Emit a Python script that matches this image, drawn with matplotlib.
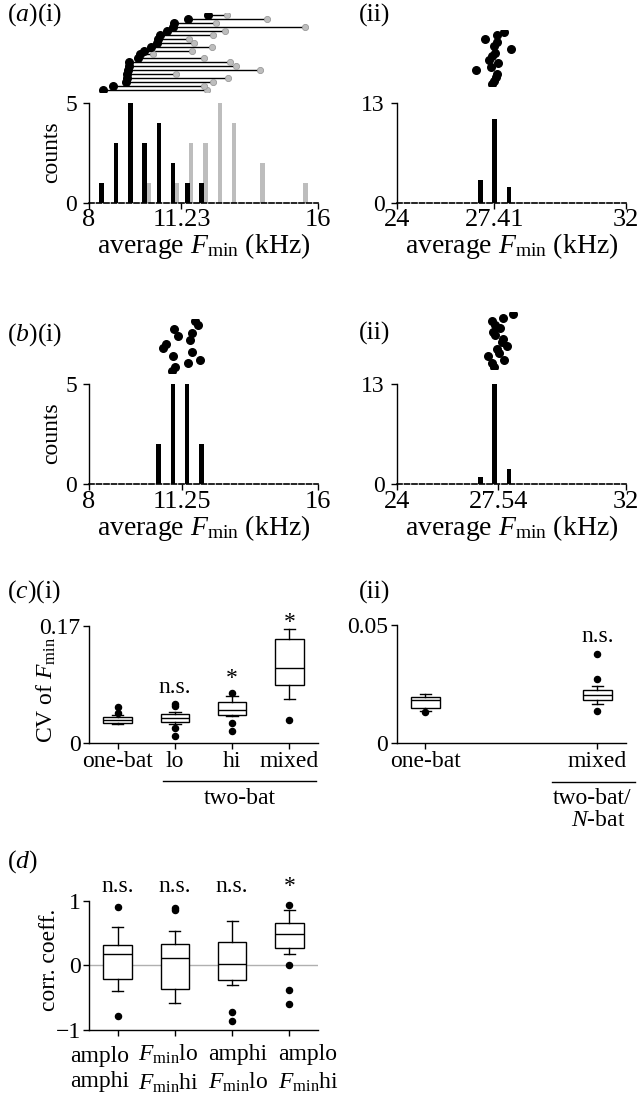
import matplotlib
matplotlib.use('Agg')
import matplotlib.pyplot as plt
import numpy as np

plt.rcParams['font.family'] = ['Liberation Serif', 'DejaVu Serif']
plt.rcParams['mathtext.fontset'] = 'custom'
plt.rcParams['mathtext.rm'] = 'Liberation Serif'
plt.rcParams['mathtext.it'] = 'Liberation Serif:italic'
plt.rcParams['font.size'] = 17
plt.rcParams['axes.linewidth'] = 1.0
plt.rcParams['xtick.major.size'] = 4
plt.rcParams['ytick.major.size'] = 4
plt.rcParams['xtick.major.pad'] = 2
plt.rcParams['ytick.major.pad'] = 2

# ---------------- data ----------------
# (a)(i) histograms of average Fmin (kHz)
a1_lo_bins = [8.5, 9.0, 9.5, 10.0, 10.5, 11.0, 11.5, 12.0]
a1_lo_counts = [1, 3, 5, 3, 4, 2, 1, 1]
a1_hi_bins = [10.0, 11.0, 11.5, 12.0, 12.5, 13.0, 14.0, 15.5]
a1_hi_counts = [1, 1, 3, 3, 5, 4, 2, 1]
# pairs (bottom to top)
a1_pair_lo = [8.48, 8.83, 9.29, 9.32, 9.34, 9.37, 9.41, 9.41, 9.72, 9.78,
              9.92, 10.16, 10.37, 10.42, 10.48, 10.74, 10.92, 10.97, 11.47, 12.17]
a1_pair_hi = [12.13, 12.02, 12.34, 12.87, 11.04, 13.97, 13.12, 12.93, 12.03, 10.25,
              11.61, 12.31, 11.68, 11.49, 12.34, 12.75, 15.55, 12.44, 14.21, 12.81]
a1_mean_label = '11.23'

# (a)(ii)
a2_bins = [26.92, 27.42, 27.92]
a2_counts = [3, 11, 2]
a2_dots = [27.34, 27.41, 27.47, 27.49, 26.78, 27.29, 27.55, 27.23, 27.31, 27.43,
           27.98, 27.41, 27.49, 27.09, 27.51, 27.75]
a2_mean_label = '27.41'

# (b)(i)
b1_bins = [10.43, 10.93, 11.43, 11.94]
b1_counts = [2, 5, 5, 2]
b1_dots = [10.91, 11.00, 11.45, 11.88, 10.95, 11.59, 10.57, 10.69, 11.53, 11.10,
           11.59, 10.98, 11.82, 11.70]
b1_mean_label = '11.25'

# (b)(ii)
b2_bins = [26.92, 27.42, 27.92]
b2_counts = [1, 13, 2]
b2_dots = [27.40, 27.31, 27.74, 27.20, 27.58, 27.49, 27.84, 27.66, 27.72, 27.43,
           27.37, 27.60, 27.43, 27.31, 27.70, 28.07]
b2_mean_label = '27.54'

# (c)(i) CV of Fmin box stats
c1_labels = ['one-bat', 'lo', 'hi', 'mixed']
c1_med = [0.033, 0.0354, 0.047, 0.108]
c1_q1 = [0.0286, 0.0295, 0.0397, 0.0838]
c1_q3 = [0.0368, 0.0417, 0.0586, 0.1506]
c1_wlo = [0.027, 0.0266, 0.0385, 0.0639]
c1_whi = [0.0407, 0.045, 0.0678, 0.165]
c1_fliers = [[0.052, 0.0425], [0.056, 0.053, 0.021, 0.0097], [0.0726, 0.028, 0.0174], [0.0324]]
c1_sig = ['', 'n.s.', '*', '*']

# (c)(ii)
c2_labels = ['one-bat', 'mixed']
c2_med = [0.018, 0.0203]
c2_q1 = [0.0146, 0.018]
c2_q3 = [0.0196, 0.0225]
c2_wlo = [0.0135, 0.0164]
c2_whi = [0.0205, 0.0239]
c2_fliers = [[0.0132], [0.0377, 0.0269, 0.0136]]
c2_sig = ['', 'n.s.']

# (d) correlation coefficients
d_labels = ['amplo\namphi', '$F_{\\rm min}$lo\n$F_{\\rm min}$hi',
            'amphi\n$F_{\\rm min}$lo', 'amplo\n$F_{\\rm min}$hi']
d_med = [0.17, 0.119, 0.021, 0.485]
d_q1 = [-0.211, -0.361, -0.222, 0.263]
d_q3 = [0.309, 0.325, 0.356, 0.66]
d_wlo = [-0.402, -0.577, -0.299, 0.175]
d_whi = [0.598, 0.526, 0.69, 0.856]
d_fliers = [[0.907, -0.784], [0.856, 0.88], [-0.727, -0.866], [0.938, 0.0, -0.381, -0.598]]
d_sig = ['n.s.', 'n.s.', 'n.s.', '*']

# ---------------- figure ----------------
W, H = 640, 1095
fig = plt.figure(figsize=(W / 100, H / 100), dpi=100)

HX = 19     # histogram x tick size
HL = 20     # histogram xlabel size
HY = 17     # histogram y tick size
PL = 18.5   # panel label size


def px_axes(x0, ytop, x1, ybot):
    return fig.add_axes([x0 / W, 1 - ybot / H, (x1 - x0) / W, (ybot - ytop) / H])


def ftext(x, y, s, **kw):
    return fig.text(x / W, 1 - y / H, s, **kw)


def style(ax):
    for s in ['top', 'right']:
        ax.spines[s].set_visible(False)
    ax.tick_params(direction='out', width=1)


XL = 'average $F_{\\rm min}$ (kHz)'
BARW = 0.16


def finish_hist(ax, xlim, mean_label, ymax, ylabel=True):
    style(ax)
    ax.set_xlim(*xlim)
    ax.set_ylim(0, ymax)
    ax.set_yticks([0, ymax])
    m = float(mean_label)
    ax.set_xticks([xlim[0], m, xlim[1]])
    ax.set_xticklabels([str(xlim[0]), mean_label, str(xlim[1])])
    ax.tick_params(axis='x', labelsize=HX, pad=0.5)
    ax.tick_params(axis='y', labelsize=HY, pad=4.5)
    ax.spines['bottom'].set_linestyle((0, (3, 1.5)))
    ax.spines['bottom'].set_linewidth(1.2)
    ax.set_xlabel(XL, labelpad=0, fontsize=HL)
    if ylabel:
        ax.set_ylabel('counts', fontsize=17)
        ax.yaxis.set_label_coords(-0.118, 0.51)


def dots_axes(x0, x1, ytop, ybot, n, xlim):
    ax = px_axes(x0, ytop, x1, ybot)
    ax.set_xlim(*xlim)
    ax.set_ylim(-0.5, n - 0.5)
    ax.axis('off')
    return ax


DOT = 30

# (a)(i)
ax = px_axes(89, 103, 318, 203)
ax.bar(np.array(a1_lo_bins) - 0.06, a1_lo_counts, width=BARW, color='black', zorder=3)
ax.bar(np.array(a1_hi_bins) + 0.07, a1_hi_counts, width=BARW, color='#bdbdbd', zorder=2)
finish_hist(ax, (8, 16), a1_mean_label, 5)

n = len(a1_pair_lo)
axd = dots_axes(89, 318, 13, 92, n, (8, 16))
rows = np.arange(n)
for i in rows:
    axd.plot([a1_pair_lo[i], a1_pair_hi[i]], [i, i], color='black', lw=1.0, zorder=1)
axd.scatter(a1_pair_hi, rows, s=20, color='#bdbdbd', edgecolor='#9a9a9a', linewidth=0.6, zorder=2)
axd.scatter(a1_pair_lo, rows, s=DOT, color='black', zorder=3)

# (a)(ii)
ax = px_axes(396.7, 103.3, 626, 202.7)
ax.bar(a2_bins, a2_counts, width=BARW, color='black', zorder=3)
finish_hist(ax, (24, 32), a2_mean_label, 13, ylabel=False)
n = len(a2_dots)
axd = dots_axes(396.7, 626, 30.3, 85.7, n, (24, 32))
axd.scatter(a2_dots, np.arange(n), s=DOT, color='black')

# (b)(i)
ax = px_axes(89, 384.3, 318, 484.3)
ax.bar(b1_bins, b1_counts, width=BARW, color='black', zorder=3)
finish_hist(ax, (8, 16), b1_mean_label, 5)
n = len(b1_dots)
axd = dots_axes(89, 318, 319, 373, n, (8, 16))
axd.scatter(b1_dots, np.arange(n), s=DOT, color='black')

# (b)(ii)
ax = px_axes(396.7, 384.3, 626, 484.3)
ax.bar(b2_bins, b2_counts, width=BARW, color='black', zorder=3)
finish_hist(ax, (24, 32), b2_mean_label, 13, ylabel=False)
n = len(b2_dots)
axd = dots_axes(396.7, 626, 312.2, 368.8, n, (24, 32))
axd.scatter(b2_dots, np.arange(n), s=DOT, color='black')


def box_panel(ax, pos, med, q1, q3, wlo, whi, fliers, capw=0.2):
    stats = []
    for i in range(len(med)):
        stats.append(dict(med=med[i], q1=q1[i], q3=q3[i], whislo=wlo[i],
                          whishi=whi[i], fliers=fliers[i]))
    ax.bxp(stats, positions=pos, widths=0.5, showfliers=True, patch_artist=True,
           boxprops=dict(facecolor='white', edgecolor='black', linewidth=1),
           medianprops=dict(color='black', linewidth=1),
           whiskerprops=dict(color='black', linewidth=1),
           capprops=dict(color='black', linewidth=1),
           capwidths=capw,
           flierprops=dict(marker='o', markerfacecolor='black', markeredgecolor='black',
                           markersize=4.4, linestyle='none'),
           manage_ticks=False)
    style(ax)
    ax.set_xlim(0, 4)
    ax.set_xticks(pos)


# (c)(i)
ax = px_axes(89, 625.7, 318, 742.7)
pos = [0.5, 1.5, 2.5, 3.5]
box_panel(ax, pos, c1_med, c1_q1, c1_q3, c1_wlo, c1_whi, c1_fliers)
ax.set_ylim(0, 0.17)
ax.set_yticks([0, 0.17])
ax.set_yticklabels(['0', '0.17'])
ax.set_xticklabels(c1_labels)
ax.set_ylabel('CV of $F_{\\rm min}$')
ax.yaxis.set_label_coords(-0.135, 0.45)
sig_y1 = [0, 0.0795, 0.094, 0.175]
for p, s, y in zip(pos, c1_sig, sig_y1):
    if s:
        ax.text(p, y, s, ha='center', va='center', clip_on=False)
tr = ax.get_xaxis_transform()
ax.plot([1.29, 3.96], [-0.33, -0.33], transform=tr, color='black', lw=1, clip_on=False)
ax.text(2.64, -0.48, 'two-bat', transform=tr, ha='center', va='center')

# (c)(ii)
ax = px_axes(396.7, 625, 626, 742.7)
pos2 = [0.5, 3.5]
box_panel(ax, pos2, c2_med, c2_q1, c2_q3, c2_wlo, c2_whi, c2_fliers)
ax.set_ylim(0, 0.05)
ax.set_yticks([0, 0.05])
ax.set_yticklabels(['0', '0.05'])
ax.set_xticklabels(c2_labels)
ax.text(3.5, 0.0453, c2_sig[1], ha='center', va='center', clip_on=False)
tr = ax.get_xaxis_transform()
ax.plot([2.71, 4.15], [-0.33, -0.33], transform=tr, color='black', lw=1, clip_on=False)
ftext(553, 799, 'two-bat/', ha='left', va='center')
ftext(598, 821, '$N$-bat', ha='center', va='center')

# (d)
ax = px_axes(89, 900.7, 318, 1030)
ax.axhline(0, color='#b0b0b0', lw=1, zorder=0)
box_panel(ax, pos, d_med, d_q1, d_q3, d_wlo, d_whi, d_fliers, capw=0.19)
ax.set_ylim(-1, 1)
ax.set_yticks([-1, 0, 1])
ax.set_yticklabels(['\u22121', '0', '1'])
ax.set_xticklabels([])
ax.set_ylabel('corr. coeff.')
ax.yaxis.set_label_coords(-0.127, 0.54)
for p, s in zip(pos, d_sig):
    ax.text(p, 1.22, s, ha='center', va='center', clip_on=False)
# category labels, left-aligned and spread wider than the ticks (as in reference)
d_label_left_px = [70, 138, 208, 278]
for xl, lab in zip(d_label_left_px, d_labels):
    ftext(xl, 1069, lab, ha='left', va='center', multialignment='left', linespacing=1.3)

# panel labels
ftext(7, 15, '($a$)(i)', ha='left', va='center', fontsize=PL)
ftext(375, 15, '(ii)', ha='center', va='center', fontsize=PL)
ftext(7, 335, '($b$)(i)', ha='left', va='center', fontsize=PL)
ftext(375, 333, '(ii)', ha='center', va='center', fontsize=PL)
ftext(7, 592, '($c$)(i)', ha='left', va='center', fontsize=PL)
ftext(375, 592, '(ii)', ha='center', va='center', fontsize=PL)
ftext(7, 862, '($d$)', ha='left', va='center', fontsize=PL)

fig.savefig('out.png', dpi=100)
